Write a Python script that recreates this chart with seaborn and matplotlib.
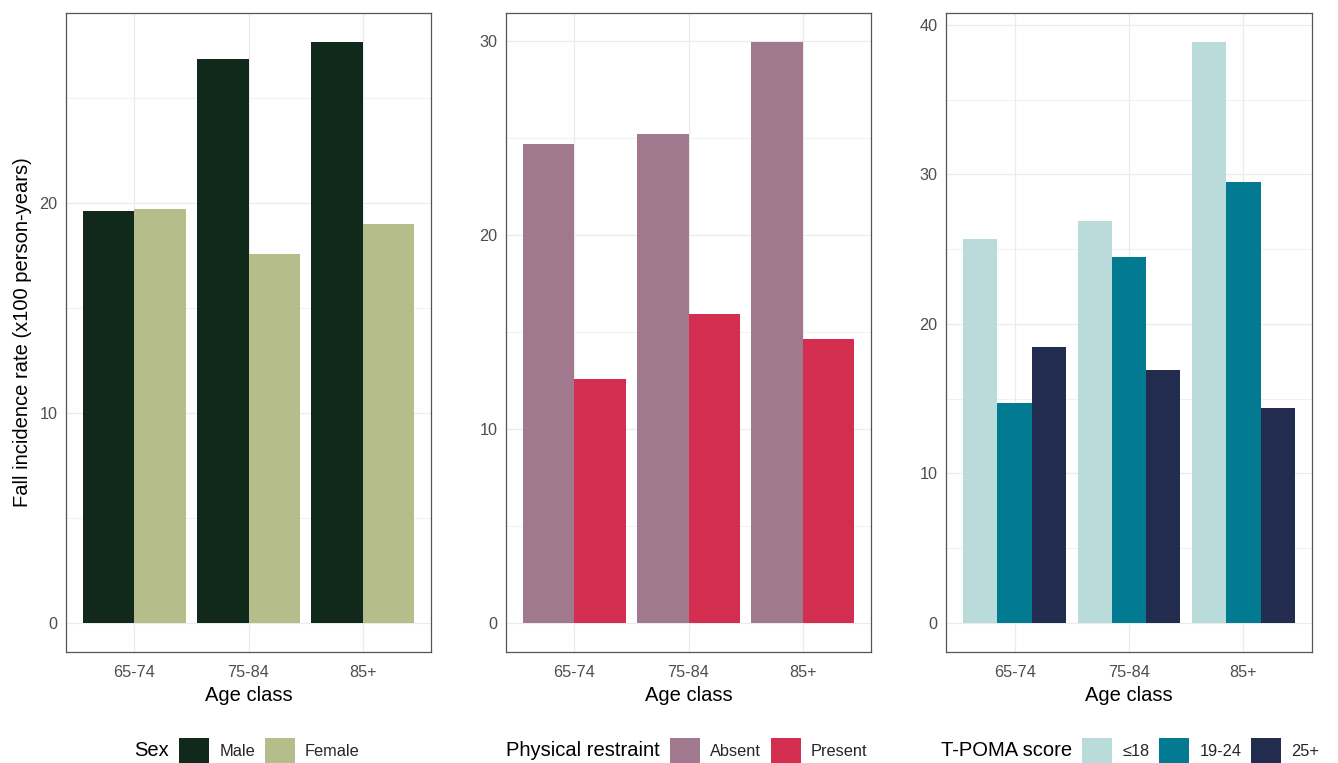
import matplotlib
matplotlib.use("Agg")
import matplotlib.pyplot as plt
from matplotlib.patches import Patch
from matplotlib.ticker import MultipleLocator
import seaborn as sns
import pandas as pd

# values
age_classes = ["65-74", "75-84", "85+"]

sex_levels = ["Male", "Female"]
sex_male = [19.6, 26.85, 27.65]
sex_female = [19.7, 17.55, 19.0]

restraint_levels = ["Absent", "Present"]
restraint_absent = [24.7, 25.2, 29.95]
restraint_present = [12.6, 15.95, 14.65]

poma_levels = ["\u226418", "19-24", "25+"]
poma_low = [25.7, 26.85, 38.85]
poma_mid = [14.7, 24.45, 29.5]
poma_high = [18.45, 16.9, 14.4]

sex_colors = ["#10291B", "#B5BE8A"]
restraint_colors = ["#A0798F", "#D32E50"]
poma_colors = ["#B9DCDB", "#027A91", "#222C4F"]

sns.set_style("white")
plt.rcParams["font.family"] = ["Liberation Sans", "DejaVu Sans"]

W, H = 1338, 763
fig = plt.figure(figsize=(W / 100, H / 100), dpi=100)


def make_df(levels, series):
    rows = []
    for lvl, vals in zip(levels, series):
        for age, v in zip(age_classes, vals):
            rows.append({"age": age, "group": lvl, "rate": v})
    return pd.DataFrame(rows)


def panel(left_px, width_px, levels, series, colors, ylabel=None):
    ax = fig.add_axes([left_px / W, (H - 652) / H, width_px / W, 639 / H])
    df = make_df(levels, series)
    sns.barplot(data=df, x="age", y="rate", hue="group", hue_order=levels,
                order=age_classes, palette=colors, width=0.9, gap=0,
                errorbar=None, linewidth=0, saturation=1, legend=False, ax=ax)
    top = max(max(s) for s in series)
    ax.set_ylim(-0.05 * top, 1.05 * top)
    ax.set_xlim(-0.6, 2.6)
    ax.yaxis.set_major_locator(MultipleLocator(10))
    ax.yaxis.set_minor_locator(MultipleLocator(5))
    ax.set_axisbelow(True)
    ax.grid(which="major", color="#EBEBEB", linewidth=0.9)
    ax.grid(which="minor", axis="y", color="#EBEBEB", linewidth=0.5)
    for s in ax.spines.values():
        s.set_color("#555555")
        s.set_linewidth(0.9)
        s.set_visible(True)
    ax.tick_params(axis="both", which="major", length=3.6, width=0.7,
                   color="#333333", labelcolor="#4D4D4D", labelsize=11.7, pad=2.5)
    ax.tick_params(axis="x", which="major", pad=5.5)
    ax.tick_params(axis="y", which="minor", length=0)
    ax.set_xlabel("Age class", fontsize=14.5, color="black", labelpad=4.5)
    if ylabel:
        ax.set_ylabel(ylabel, fontsize=14.5, color="black", labelpad=5)
    else:
        ax.set_ylabel("")
    return ax


def legend(title, key_left_px, levels, colors):
    handles = [Patch(facecolor=c, edgecolor="none") for c in colors]
    y = (H - 751) / H
    fig.legend(handles, levels, loc="center left",
               bbox_to_anchor=(key_left_px / W, y), ncol=len(levels),
               frameon=False, fontsize=11.8, handlelength=1.85,
               handleheight=2.0, handletextpad=0.6, columnspacing=0.6,
               borderpad=0, borderaxespad=0)
    fig.text((key_left_px - 10) / W, y, title, ha="right", va="center",
             fontsize=14.5, color="black")


panel(66, 365, sex_levels, [sex_male, sex_female], sex_colors,
      ylabel="Fall incidence rate (x100 person-years)")
panel(506, 365, restraint_levels, [restraint_absent, restraint_present],
      restraint_colors)
panel(946, 366, poma_levels, [poma_low, poma_mid, poma_high], poma_colors)

legend("Sex", 179, sex_levels, sex_colors)
legend("Physical restraint", 670, restraint_levels, restraint_colors)
legend("T-POMA score", 1082, poma_levels, poma_colors)

fig.savefig("out.png", dpi=100)
